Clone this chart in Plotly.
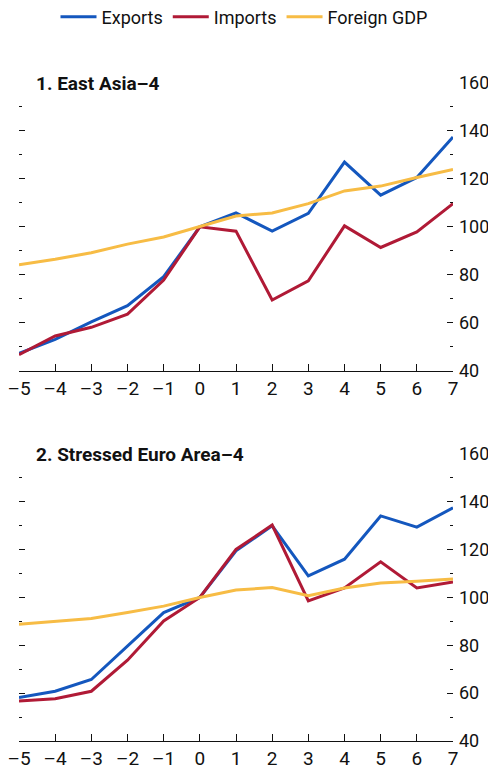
import plotly.graph_objects as go
from plotly.subplots import make_subplots

years = [-5, -4, -3, -2, -1, 0, 1, 2, 3, 4, 5, 6, 7]
year_labels = ["–5", "–4", "–3", "–2", "–1", "0", "1", "2", "3", "4", "5", "6", "7"]
y_ticks = [40, 60, 80, 100, 120, 140, 160]

panel_titles = ["1. East Asia–4", "2. Stressed Euro Area–4"]

ea_exports = [47.2, 53.1, 60.4, 67.1, 79.2, 100, 105.8, 98.2, 105.6, 127.0, 113.2, 120.6, 137.5]
ea_imports = [46.7, 54.5, 58.1, 63.6, 77.8, 100, 98.2, 69.5, 77.5, 100.4, 91.4, 97.9, 109.7]
ea_gdp = [84.2, 86.5, 89.2, 92.8, 95.8, 100, 104.5, 105.8, 109.7, 115.0, 117.0, 120.6, 123.9]

se_exports = [58.2, 60.8, 65.7, 79.6, 93.7, 100, 119.5, 130.0, 109.0, 116.0, 134.1, 129.4, 137.5]
se_imports = [56.7, 57.7, 60.8, 73.8, 90.2, 100, 120.1, 130.3, 98.6, 104.0, 114.9, 104.0, 106.5]
se_gdp = [88.8, 90.1, 91.2, 93.7, 96.4, 100, 103.1, 104.2, 100.7, 104.0, 106.1, 106.8, 107.7]

series_names = ["Exports", "Imports", "Foreign GDP"]
colors = ["#1457BE", "#B01A36", "#F7BC45"]

FONT = "Roboto, Liberation Sans, sans-serif"

# page body has an 8px margin: figure is 488x766 placed at (8, 8)
W, H = 488, 766
ML, MR, MT, MB = 11, 43, 75, 33
plot_w = W - ML - MR
plot_h = H - MT - MB

fig = make_subplots(rows=2, cols=1, vertical_spacing=0.13)

panels = [[ea_exports, ea_imports, ea_gdp], [se_exports, se_imports, se_gdp]]
for r, data in enumerate(panels, start=1):
    for i, (name, vals) in enumerate(zip(series_names, data)):
        fig.add_trace(go.Scatter(
            x=years, y=vals, mode="lines", name=name,
            line=dict(color=colors[i], width=3),
            showlegend=(r == 1), legendgroup=name,
        ), row=r, col=1)

fig.update_layout(
    width=W, height=H,
    margin=dict(l=ML, r=MR, t=MT, b=MB, autoexpand=False),
    paper_bgcolor="white", plot_bgcolor="white",
    font=dict(family=FONT, size=19, color="#111"),
    showlegend=True,
    legend=dict(orientation="h", x=(236 - ML) / plot_w, xanchor="center", xref="paper",
                y=1 + (MT - 9) / plot_h, yanchor="middle", yref="paper",
                font=dict(size=18), itemwidth=36, tracegroupgap=0,
                bgcolor="rgba(0,0,0,0)"),
)

domains = [[(733 - 362.7) / plot_h, 1.0], [0.0, (733 - 446) / plot_h]]
for r in (1, 2):
    fig.update_xaxes(
        row=r, col=1, range=[-5, 7], tickvals=years, ticktext=year_labels,
        showline=True, linecolor="#111", linewidth=1.2,
        ticks="inside", ticklen=7, tickwidth=1.2, tickcolor="#111",
        showgrid=False, zeroline=False, tickfont=dict(size=19),
        ticklabeloverflow="allow",
        domain=[0, 1],
    )
    fig.update_yaxes(
        row=r, col=1, range=[40, 160], tickvals=y_ticks, side="right",
        showline=False, ticks="inside", ticklen=6, tickwidth=1.2, tickcolor="#111",
        mirror="ticks", ticklabelstandoff=5, ticklabeloverflow="allow",
        minor=dict(tick0=40, dtick=10, ticks="inside", ticklen=3, tickwidth=1.2,
                   tickcolor="#111", showgrid=False),
        showgrid=False, zeroline=False, tickfont=dict(size=18),
        domain=domains[r - 1],
    )

for r, title in enumerate(panel_titles, start=1):
    xr = "x domain" if r == 1 else "x2 domain"
    yr = "y domain" if r == 1 else "y2 domain"
    fig.add_annotation(text="<b>" + title + "</b>", xref=xr, yref=yr,
                       x=15 / plot_w, y=1, xanchor="left", yanchor="middle",
                       showarrow=False, font=dict(size=19, family=FONT, color="#111"))

fig.write_html("out.html")
